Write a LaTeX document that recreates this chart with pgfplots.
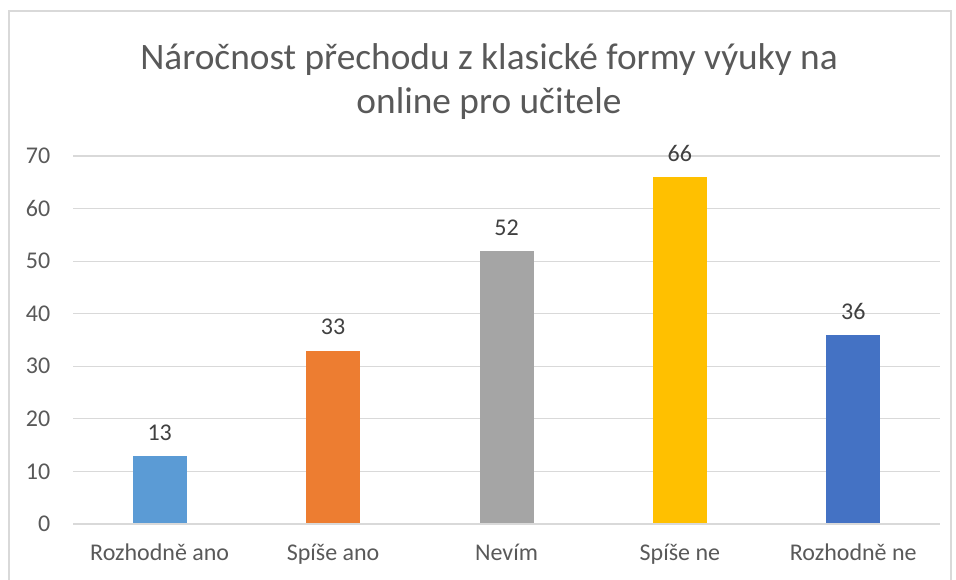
\documentclass[border=0pt]{standalone}
\usepackage{pgfplots}
\pgfplotsset{compat=1.18}
\usepackage{fontspec}
\setmainfont{Carlito}
\definecolor{txt}{HTML}{595959}
\definecolor{gridc}{HTML}{D9D9D9}
\definecolor{c1}{HTML}{5B9BD5}
\definecolor{c2}{HTML}{ED7D31}
\definecolor{c3}{HTML}{A5A5A5}
\definecolor{c4}{HTML}{FFC000}
\definecolor{c5}{HTML}{4472C4}
\begin{document}
\begin{tikzpicture}
\useasboundingbox (0pt,0pt) rectangle (717pt,435pt);
\draw[gridc,line width=1.1pt] (6.75pt,-10pt) -- (6.75pt,426.75pt) -- (713.25pt,426.75pt) -- (713.25pt,-10pt);
\node[txt,font=\fontsize{28}{33}\selectfont,align=center] at (366.75pt,374pt) {Náročnost přechodu z klasické formy výuky na\\online pro učitele};
\begin{axis}[
  at={(54.75pt,42pt)}, anchor=south west,
  scale only axis, width=650.25pt, height=276pt,
  xmin=-0.5, xmax=4.5, ymin=0, ymax=70,
  ytick={0,10,...,70},
  xtick={0,1,2,3,4},
  xticklabels={Rozhodně ano,Spíše ano,Nevím,Spíše ne,Rozhodně ne},
  axis line style={draw=none},
  tick style={draw=none},
  xmajorgrids=false,
  ymajorgrids, grid style={draw=gridc,line width=0.8pt},
  ticklabel style={font=\fontsize{18}{21}\selectfont, text=txt},
  /pgf/number format/assume math mode=true,
  yticklabel style={xshift=-13.5pt},
  xticklabel style={yshift=-7pt},
  ybar, bar width=40.5pt, bar shift=0pt,
  nodes near coords,
  every node near coord/.append style={font=\fontsize{18}{21}\selectfont, text=black!75, yshift=8pt},
  clip=false,
]
\addplot[fill=c1,draw=none] coordinates {(0,13)};
\addplot[fill=c2,draw=none] coordinates {(1,33)};
\addplot[fill=c3,draw=none] coordinates {(2,52)};
\addplot[fill=c4,draw=none] coordinates {(3,66)};
\addplot[fill=c5,draw=none] coordinates {(4,36)};
\draw[gridc,line width=1.1pt] (axis cs:-0.5,0) -- (axis cs:4.5,0);
\end{axis}
\end{tikzpicture}
\end{document}
